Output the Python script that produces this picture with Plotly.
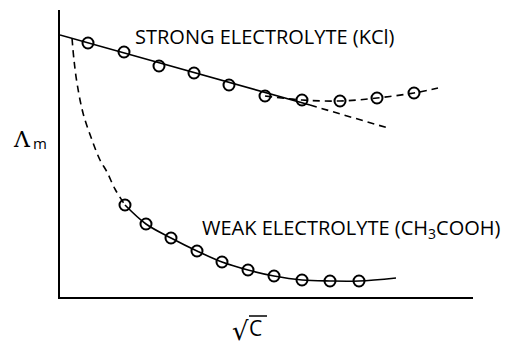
import plotly.graph_objects as go

# Strong electrolyte (KCl) measured points
strong_x = [28, 64, 99, 134, 169, 205, 242, 280, 317, 354]
strong_y = [254, 245, 231, 224, 212, 201, 197, 196, 199, 204]
# limiting straight line (solid part, dashed extrapolation)
strong_fit_x = [0, 250]
strong_fit_y = [262, 192]
strong_ext_x = [250, 328]
strong_ext_y = [192, 169]
# deviation (dashed) through upper points
strong_dev_x = [205, 242, 280, 317, 354, 378]
strong_dev_y = [201, 197, 196, 199, 204, 209]

# Weak electrolyte (CH3COOH)
weak_x = [65, 86, 111, 137, 162, 188, 214, 242, 270, 299]
weak_y = [92, 73, 59, 46, 35, 27, 21, 17, 16, 16]
weak_fit_x = [65, 86, 111, 137, 162, 188, 214, 242, 270, 299, 336]
weak_fit_y = [92, 73, 59, 46, 35, 27, 21, 17, 16, 16, 19]
weak_ext_x = [12, 14, 17, 23, 32, 40, 47, 55, 65]
weak_ext_y = [259, 237, 214, 184, 157, 137, 125, 108, 92]

BLACK = "#000000"
fig = go.Figure()

fig.add_trace(go.Scatter(x=strong_fit_x, y=strong_fit_y, mode="lines",
                         line=dict(color=BLACK, width=1.6)))
fig.add_trace(go.Scatter(x=strong_ext_x, y=strong_ext_y, mode="lines",
                         line=dict(color=BLACK, width=1.6, dash="7px,5px")))
fig.add_trace(go.Scatter(x=strong_dev_x, y=strong_dev_y, mode="lines",
                         line=dict(color=BLACK, width=1.6, dash="7px,5px", shape="spline")))
fig.add_trace(go.Scatter(x=weak_fit_x, y=weak_fit_y, mode="lines",
                         line=dict(color=BLACK, width=1.6, shape="spline")))
fig.add_trace(go.Scatter(x=weak_ext_x, y=weak_ext_y, mode="lines",
                         line=dict(color=BLACK, width=1.6, dash="7px,5px", shape="spline")))
for xs, ys in [(strong_x, strong_y), (weak_x, weak_y)]:
    fig.add_trace(go.Scatter(x=xs, y=ys, mode="markers",
                             marker=dict(symbol="circle-open", size=11, color=BLACK,
                                         line=dict(width=2, color=BLACK))))

label_font = dict(family="Open Sans", size=20, color=BLACK)
fig.add_annotation(x=73 / 413, y=261 / 287, xref="paper", yref="paper",
                   text="STRONG ELECTROLYTE (KCl)",
                   showarrow=False, xanchor="left", yanchor="middle", font=label_font)
fig.add_annotation(x=140 / 413, y=69 / 287, xref="paper", yref="paper",
                   text="WEAK ELECTROLYTE (CH<sub>3</sub>COOH)",
                   showarrow=False, xanchor="left", yanchor="middle", font=label_font)

# y-axis title: Λm
fig.add_annotation(x=-27 / 413, y=158 / 287, xref="paper", yref="paper", text="Λ",
                   showarrow=False, xanchor="right", yanchor="middle",
                   font=dict(family="DejaVu Serif", size=22, color=BLACK))
fig.add_annotation(x=-29 / 413, y=154 / 287, xref="paper", yref="paper", text="m",
                   showarrow=False, xanchor="left", yanchor="middle",
                   font=dict(family="Open Sans", size=15, color=BLACK))
# x-axis title: √C
fig.add_annotation(x=191 / 413, y=-17 / 287, xref="paper", yref="paper", text="√",
                   showarrow=False, xanchor="right", yanchor="top",
                   font=dict(family="DejaVu Sans", size=26, color=BLACK))
fig.add_annotation(x=187 / 413, y=-47 / 287, xref="paper", yref="paper", text="C",
                   showarrow=False, xanchor="left", yanchor="bottom",
                   font=dict(family="Open Sans", size=21, color=BLACK))
fig.add_shape(type="line", xref="paper", yref="paper", x0=189 / 413, x1=207 / 413,
              y0=-19 / 287, y1=-19 / 287, line=dict(color=BLACK, width=1.5))

fig.update_xaxes(range=[0, 413], showline=True, linecolor=BLACK, linewidth=2,
                 showgrid=False, zeroline=False, showticklabels=False, ticks="")
fig.update_yaxes(range=[0, 287], showline=True, linecolor=BLACK, linewidth=2,
                 showgrid=False, zeroline=False, showticklabels=False, ticks="")
fig.update_layout(width=512, height=345, showlegend=False,
                  margin=dict(l=60, r=39, t=10, b=48),
                  paper_bgcolor="white", plot_bgcolor="white")
fig.write_html("out.html", config={"displayModeBar": False},
               post_script="document.body.style.margin='0px';")
